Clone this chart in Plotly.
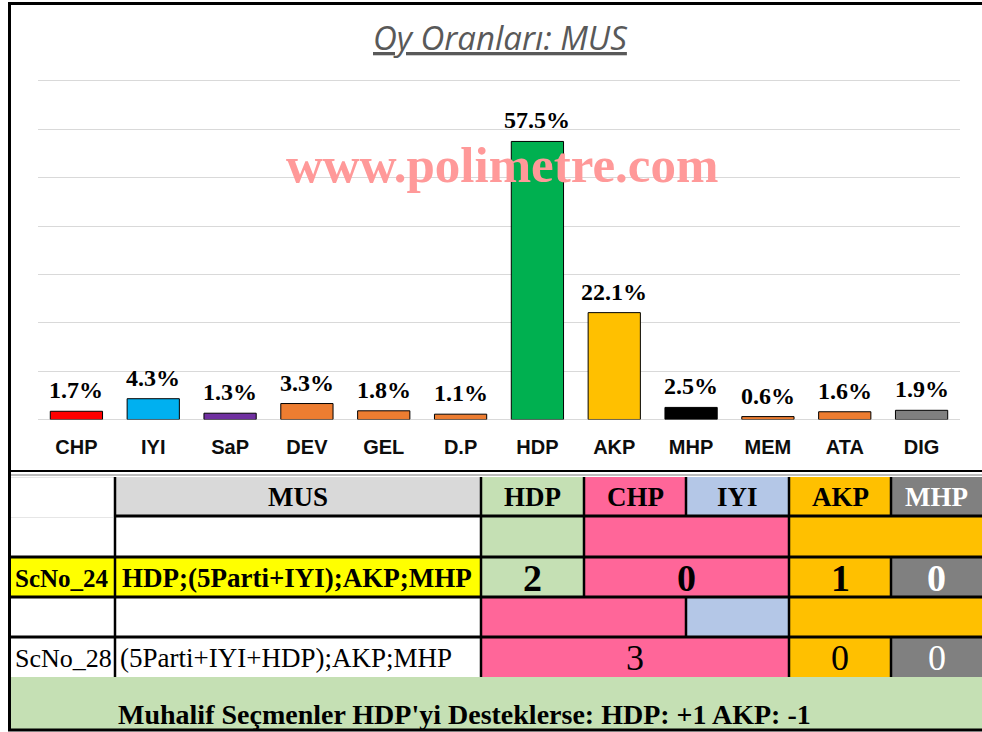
import plotly.graph_objects as go

W, H = 982, 732

# ---------------- data ----------------
parties = ["CHP", "IYI", "SaP", "DEV", "GEL", "D.P", "HDP", "AKP", "MHP", "MEM", "ATA", "DIG"]
shares = [1.7, 4.3, 1.3, 3.3, 1.8, 1.1, 57.5, 22.1, 2.5, 0.6, 1.6, 1.9]
bar_colors = ["#FF0000", "#00B0F0", "#7030A0", "#ED7D31", "#ED7D31", "#ED7D31",
              "#00B050", "#FFC000", "#000000", "#ED7D31", "#ED7D31", "#808080"]

title_text = "Oy Oranları: MUS"
watermark = "www.polimetre.com"

table_header = ["MUS", "HDP", "CHP", "IYI", "AKP", "MHP"]
sc24_id = "ScNo_24"
sc24_desc = "HDP;(5Parti+IYI);AKP;MHP"
sc24_seats = ["2", "0", "1", "0"]
sc28_id = "ScNo_28"
sc28_desc = "(5Parti+IYI+HDP);AKP;MHP"
sc28_seats = ["3", "0", "0"]
note_text = "Muhalif Seçmenler HDP'yi Desteklerse: HDP: +1 AKP: -1"

# ---------------- colours / layout ----------------
C_GREY_H = "#D9D9D9"
C_GREEN = "#C5E0B4"
C_PINK = "#FF6699"
C_BLUE = "#B4C7E7"
C_ORANGE = "#FFC000"
C_GREY = "#808080"
C_YELLOW = "#FFFF00"
SERIF = "Liberation Serif"


def px(x):
    return x / W


def py(y):
    return 1 - y / H


fig = go.Figure(go.Bar(
    x=parties, y=shares,
    marker=dict(color=bar_colors, line=dict(color="black", width=1)),
    hoverinfo="skip",
))

shapes = []
annotations = []

# value labels above bars (data coordinates)
for p, v in zip(parties, shares):
    annotations.append(dict(x=p, y=v, xref="x", yref="y", text=f"{v:.1f}%",
                            showarrow=False, xanchor="center", yanchor="bottom", yshift=6,
                            font=dict(family=SERIF, size=24, color="black", weight="bold")))


def rect(x0, y0, x1, y1, fill):
    shapes.append(dict(type="rect", xref="paper", yref="paper",
                       x0=px(x0), x1=px(x1), y0=py(y1), y1=py(y0),
                       fillcolor=fill, line=dict(width=0), layer="above"))


def line(x0, y0, x1, y1, color="black", width=2.5):
    shapes.append(dict(type="line", xref="paper", yref="paper",
                       x0=px(x0), x1=px(x1), y0=py(y0), y1=py(y1),
                       line=dict(color=color, width=width), layer="above"))


def text(t, x, y, size, bold=True, color="black", xanchor="center"):
    annotations.append(dict(text=t, xref="paper", yref="paper", x=px(x), y=py(y),
                            xanchor=xanchor, yanchor="middle", showarrow=False,
                            font=dict(family=SERIF, size=size, color=color,
                                      weight="bold" if bold else "normal")))


# column / row edges of the table (pixels)
cx = [11, 115, 481, 584, 686, 789, 891, 982]
ry = [477, 516, 557, 597, 637, 677, 729]

# fills
row0 = ["white", C_GREY_H, C_GREEN, C_PINK, C_BLUE, C_ORANGE, C_GREY]
for i, f in enumerate(row0):
    rect(cx[i], ry[0], cx[i + 1], ry[1], f)
rect(cx[0], ry[1], cx[2], ry[2], "white")
rect(cx[2], ry[1], cx[3], ry[2], C_GREEN)
rect(cx[3], ry[1], cx[5], ry[2], C_PINK)
rect(cx[5], ry[1], cx[7], ry[2], C_ORANGE)
rect(cx[0], ry[2], cx[2], ry[3], C_YELLOW)
rect(cx[2], ry[2], cx[3], ry[3], C_GREEN)
rect(cx[3], ry[2], cx[5], ry[3], C_PINK)
rect(cx[5], ry[2], cx[6], ry[3], C_ORANGE)
rect(cx[6], ry[2], cx[7], ry[3], C_GREY)
rect(cx[0], ry[3], cx[2], ry[4], "white")
rect(cx[2], ry[3], cx[4], ry[4], C_PINK)
rect(cx[4], ry[3], cx[5], ry[4], C_BLUE)
rect(cx[5], ry[3], cx[7], ry[4], C_ORANGE)
rect(cx[0], ry[4], cx[2], ry[5], "white")
rect(cx[2], ry[4], cx[5], ry[5], C_PINK)
rect(cx[5], ry[4], cx[6], ry[5], C_ORANGE)
rect(cx[6], ry[4], cx[7], ry[5], C_GREY)
rect(cx[0], ry[5], cx[7], ry[6], C_GREEN)

# lines
line(8, 471, 982, 471, "black", 2)
line(11, 475, 982, 475, "#A6A6A6", 1.5)
line(11, 477.5, 115, 477.5, "#E6E6E6", 1)
line(11, 517.5, 113, 517.5, "#E6E6E6", 1)
line(115, 516, 982, 516, "black", 3)
for yy in ry[2:5]:
    line(11, yy, 982, yy, "black", 3)
line(cx[1], ry[0], cx[1], ry[5])
line(cx[2], ry[0], cx[2], ry[5])
line(cx[3], ry[0], cx[3], ry[3])
line(cx[4], ry[0], cx[4], ry[1])
line(cx[4], ry[3], cx[4], ry[4])
line(cx[5], ry[0], cx[5], ry[5])
line(cx[6], ry[0], cx[6], ry[1])
line(cx[6], ry[2], cx[6], ry[3])
line(cx[6], ry[4], cx[6], ry[5])

# outer frame
line(8, 3.5, 982, 3.5, "black", 3)
line(9.5, 2, 9.5, 731, "black", 3)
line(8, 730, 982, 730, "black", 3)

# table text
hc = [(cx[1] + cx[2]) / 2] + [(cx[i] + cx[i + 1]) / 2 for i in range(2, 7)]
for i, t in enumerate(table_header):
    text(t, hc[i], 497, 27, True, "white" if t == "MHP" else "black")
text(sc24_id, 13, 578, 25, True, xanchor="left")
text(sc24_desc, 120, 578, 27, True, xanchor="left")
s24x = [(cx[2] + cx[3]) / 2, (cx[3] + cx[5]) / 2, (cx[5] + cx[6]) / 2, (cx[6] + cx[7]) / 2]
for i, t in enumerate(sc24_seats):
    text(t, s24x[i], 578, 38, True, "white" if i == 3 else "black")
text(sc28_id, 13, 658, 26, False, xanchor="left")
text(sc28_desc, 118, 658, 27, False, xanchor="left")
s28x = [(cx[2] + cx[5]) / 2, (cx[5] + cx[6]) / 2, (cx[6] + cx[7]) / 2]
for i, t in enumerate(sc28_seats):
    text(t, s28x[i], 658, 36, False, "white" if i == 2 else "black")
text(note_text, 464, 714, 28, True)

# title and watermark
annotations.append(dict(text="<u><i>" + title_text + "</i></u>", xref="paper", yref="paper",
                        x=px(500), y=py(38), xanchor="center", yanchor="middle", showarrow=False,
                        font=dict(family="Open Sans", size=33, color="#595959")))
annotations.append(dict(text=watermark, xref="paper", yref="paper",
                        x=px(502), y=py(165), xanchor="center", yanchor="middle", showarrow=False,
                        font=dict(family=SERIF, size=51, color="#FF9999", weight="bold")))

PPU = (419.5 - 81) / 70.0  # pixels per percent
Y_MAX = 70.3
fig.update_layout(
    width=W, height=H,
    margin=dict(l=0, r=0, t=0, b=0),
    paper_bgcolor="white", plot_bgcolor="white",
    showlegend=False, bargap=0.32,
    shapes=shapes, annotations=annotations,
    xaxis=dict(domain=[px(38), px(960)], showgrid=False, showline=False,
               ticks="", ticklabelstandoff=13,
               tickfont=dict(family="Liberation Sans", size=20, color="#0d0d0d", weight="bold")),
    yaxis=dict(domain=[py(419.5), py(419.5 - Y_MAX * PPU)], range=[0, Y_MAX], dtick=10,
               showticklabels=False, gridcolor="#D9D9D9", gridwidth=1,
               zeroline=True, zerolinecolor="#D9D9D9", zerolinewidth=1),
)

fig.write_html("out.html", config={"displayModeBar": False},
               post_script="document.body.style.margin='0';document.body.style.overflow='hidden';")
